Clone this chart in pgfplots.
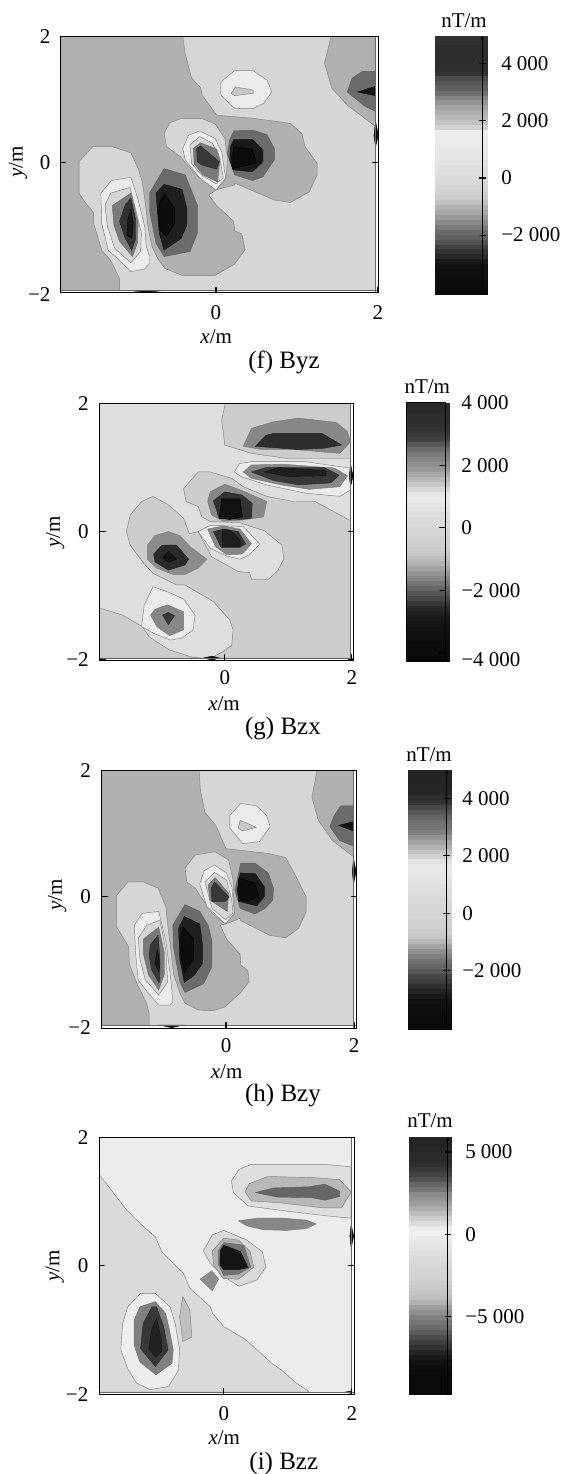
\documentclass[border=0pt]{standalone}
\usepackage{fontspec}
\setmainfont{Liberation Serif}
\usepackage{pgfplots}
\pgfplotsset{compat=1.18}
\newcommand\Pg[2]{\addplot[fill=black!#1,draw=black!\fpeval{round(max(50,#1+5),0)},line width=0.45pt] coordinates {#2} --cycle;}
\newcommand\Fs{\fontsize{21}{23}\selectfont}
\pgfplotsset{
 panel/.style={scale only axis,anchor=north west,axis on top,no markers,tick align=inside,
  major tick length=6pt,axis line style={line width=1pt},
  every tick/.style={black,line width=1.1pt},
  xtick pos=bottom,ytick pos=both,yticklabel pos=left,xticklabel pos=bottom,
  every tick label/.append style={font=\Fs,inner sep=0pt,outer sep=0pt},
  yticklabel shift=10pt,
  xlabel={\textit{x}/m},ylabel={\textit{y}/m},
  every axis x label/.style={at={(axis description cs:0.49,0)},anchor=center,yshift=-43.5pt,font=\Fs},
  every axis y label/.style={at={(axis description cs:0,0.5)},xshift=-44.5pt,rotate=90,anchor=center,font=\Fs},
 },
 cbar/.style={scale only axis,anchor=north west,axis on top,no markers,clip=false,tick align=inside,
  major tick length=6.5pt,xmin=0,xmax=1,xtick=\empty,axis line style={line width=0.8pt,-},
  every tick/.style={black,line width=1.1pt},
  ytick pos=right,yticklabel pos=right,
  every tick label/.append style={font=\Fs,inner sep=0pt,outer sep=0pt},
 },
}
% #1 bands' right end (frame width = 1), #2 value at top, #3 value at bottom, #4 darkness list top to bottom
\newcommand\Bands[4]{%
 \foreach \p [count=\i] in {#4} {%
  \pgfmathsetmacro{\a}{#2-(\i-1)*((#2-(#3))/52)}%
  \pgfmathsetmacro{\b}{#2-\i*((#2-(#3))/52)}%
  \edef\temp{\noexpand\addplot[fill=black!\p,draw=black!\p,line width=0.2pt,forget plot] coordinates {(0,\a)(#1,\a)(#1,\b)(0,\b)} --cycle;}\temp
 }%
}
\begin{document}
\begin{tikzpicture}
\path[use as bounding box] (0pt,0pt) rectangle (564pt,-1474pt);
% ---------------- (f) Byz
\begin{axis}[panel,at={(60.4pt,-36.7pt)},width=318pt,height=256pt,
 xmin=-1.92,xmax=2.005,ymin=-2.076,ymax=2,xticklabel shift=13pt,
 y label style={xshift=2.7pt,yshift=-2pt},
 xtick={0,2},xticklabels={0,2},ytick={0,2},yticklabels={0,2},
 extra y ticks={-2},extra y tick labels={−2},extra y tick style={major tick length=0pt,yticklabel style={yshift=-7pt}}]
\Pg{16}{(-1.92,-2.044)(1.97,-2.044)(1.97,2)(-1.92,2)}
\Pg{31}{(-1.92,2)(-0.41,2)(-0.38,1.73)(-0.30,1.34)(-0.19,1.19)(-0.17,1.07)(0.01,0.75)(0.46,0.70)(0.92,0.62)(1.06,0.46)(1.10,0.25)(1.25,-0.02)(1.25,-0.20)(1.15,-0.47)(0.92,-0.64)(0.72,-0.60)(0.23,-0.33)(0.23,-0.36)(0,-0.44)(-0.09,-0.52)(0.01,-0.69)(0.22,-0.94)(0.23,-1.09)(0.32,-1.14)(0.36,-1.39)(0.23,-1.62)(-0.01,-1.80)(-0.42,-1.80)(-0.63,-1.69)(-0.72,-1.53)(-0.79,-1.34)(-0.84,-1.02)(-0.86,-0.76)(-0.91,-0.31)(-0.96,-0.10)(-1.05,0.15)(-1.28,0.25)(-1.52,0.25)(-1.69,0.01)(-1.69,-0.49)(-1.62,-0.63)(-1.51,-0.80)(-1.51,-0.97)(-1.41,-1.40)(-1.30,-1.56)(-1.19,-1.85)(-1.19,-2.044)(-1.92,-2.044)}
\Pg{31}{(1.42,2)(1.34,1.58)(1.43,1.18)(1.62,0.91)(1.97,0.57)(1.97,2)}
% left blob
\Pg{8}{(-1.42,-0.49)(-1.29,-0.29)(-1.05,-0.24)(-0.96,-0.60)(-0.88,-1.02)(-0.86,-1.34)(-0.82,-1.50)(-0.82,-1.61)(-0.88,-1.70)(-1.05,-1.74)(-1.19,-1.56)(-1.33,-1.40)(-1.41,-0.97)}
\Pg{16}{(-1.37,-0.68)(-1.30,-0.49)(-1.06,-0.40)(-0.99,-0.76)(-0.92,-1.13)(-0.93,-1.42)(-1.05,-1.60)(-1.25,-1.37)(-1.34,-1.02)}
\Pg{52}{(-1.28,-0.69)(-1.05,-0.49)(-0.96,-0.97)(-0.97,-1.29)(-1.03,-1.50)(-1.19,-1.26)(-1.26,-1.00)}
\Pg{80}{(-1.12,-0.68)(-1.05,-0.57)(-0.99,-0.92)(-0.99,-1.21)(-1.04,-1.40)(-1.12,-1.21)(-1.19,-0.94)}
\Pg{90}{(-1.05,-0.75)(-1.02,-0.97)(-1.04,-1.21)(-1.10,-1.16)(-1.09,-0.92)}
% lower dark blob
\Pg{58}{(-0.64,-0.10)(-0.38,-0.20)(-0.23,-0.68)(-0.23,-1.13)(-0.32,-1.42)(-0.64,-1.50)(-0.74,-1.29)(-0.82,-0.76)(-0.82,-0.49)}
\Pg{88}{(-0.64,-0.35)(-0.42,-0.43)(-0.36,-0.73)(-0.36,-1.00)(-0.43,-1.21)(-0.64,-1.40)(-0.70,-1.13)(-0.74,-0.49)}
\Pg{95}{(-0.64,-0.49)(-0.51,-0.73)(-0.51,-0.97)(-0.61,-1.18)(-0.69,-1.08)(-0.72,-0.71)}
% central blob
\Pg{16}{(-0.64,0.46)(-0.57,0.63)(-0.42,0.70)(-0.18,0.70)(-0.01,0.61)(0.11,0.38)(0.14,0.09)(0.13,-0.25)(0,-0.44)(-0.26,-0.18)(-0.44,0.09)(-0.61,0.25)}
\Pg{8}{(-0.41,0.22)(-0.34,0.43)(-0.20,0.50)(-0.01,0.38)(0.07,0.17)(0.12,-0.25)(0,-0.44)(-0.20,-0.25)(-0.38,0.04)}
\Pg{16}{(-0.32,0.28)(-0.20,0.41)(-0.04,0.30)(0.05,0.04)(0.09,-0.25)(0,-0.34)(-0.18,-0.20)(-0.30,-0.02)}
\Pg{52}{(-0.28,0.22)(-0.19,0.31)(0.01,0.21)(0.05,0.04)(0.02,-0.31)(-0.16,-0.20)(-0.27,-0.02)}
\Pg{78}{(-0.24,0.22)(-0.19,0.26)(0.04,0.01)(0.01,-0.11)(-0.18,-0.04)(-0.23,0.01)}
% right dark blob
\Pg{58}{(0.22,0.50)(0.46,0.51)(0.63,0.44)(0.72,0.22)(0.72,0.04)(0.58,-0.23)(0.45,-0.29)(0.23,-0.20)(0.14,0.14)(0.17,0.36)}
\Pg{90}{(0.22,0.36)(0.45,0.36)(0.58,0.20)(0.58,0.01)(0.45,-0.15)(0.21,-0.12)(0.17,0.04)(0.18,0.25)}
\Pg{95}{(0.22,0.25)(0.45,0.21)(0.50,-0.01)(0.30,-0.07)(0.21,-0.10)(0.21,0.14)}
% top blob
\Pg{8}{(0.23,1.46)(0.46,1.46)(0.63,1.31)(0.69,1.12)(0.59,0.94)(0.46,0.86)(0.23,0.86)(0.06,1.07)(0.06,1.28)}
\Pg{22}{(0.24,1.20)(0.46,1.15)(0.46,1.10)(0.23,1.06)(0.19,1.10)}
% top right
\Pg{58}{(1.81,1.45)(1.97,1.45)(1.97,0.81)(1.84,0.89)(1.62,1.12)(1.68,1.34)}
\Pg{92}{(1.75,1.12)(1.97,1.21)(1.97,1.06)}
\Pg{95}{(1.97,0.65)(2.005,0.43)(1.97,0.25)(1.95,0.43)}
\Pg{95}{(-1.04,-2.044)(-0.86,-2.07)(-0.66,-2.044)}
\addplot[black!60,line width=0.8pt] coordinates {(1.97,-2.076)(1.97,2)};
\addplot[black!60,line width=0.8pt] coordinates {(-1.92,-2.044)(2.005,-2.044)};
\end{axis}
\begin{axis}[cbar,at={(435pt,-36pt)},width=47.3pt,height=258.3pt,ymin=-4074,ymax=4974,axis y line=right,axis x line=none,
 ytick={-2000,0,2000,4000},yticklabels={−2 000,0,2 000,4 000},yticklabel shift=15.7pt]
\Bands{1.093}{4974}{-4074}{80,81,82,82,82,82,82,80,70,66,62,56,48,42,36,32,28,24,18,8,8,8,9,10,10,11,12,13,14,15,16,18,20,24,30,34,40,46,52,58,62,68,74,80,84,90,93,94,94,95,95,96}
\end{axis}
\node[font=\Fs] at (464pt,-20.7pt) {nT/m};
\node[font=\fontsize{25}{27}\selectfont] at (284pt,-362pt) {(f) Byz};
% ---------------- (g) Bzx
\begin{axis}[panel,at={(99.6pt,-403.3pt)},width=254pt,height=256.7pt,
 xmin=-1.972,xmax=2.028,ymin=-2,ymax=2,xticklabel shift=11pt,yticklabel shift=11pt,
 xtick={0,2},xticklabels={0,2},ytick={-2,0,2},yticklabels={−2,0,2}]
\Pg{13}{(-1.972,-1.97)(1.98,-1.97)(1.98,2)(-1.972,2)}
\Pg{20}{(1.98,0.17)(1.42,0.47)(1.08,0.47)(0.66,0.55)(0.29,0.70)(0.11,0.83)(-0.23,0.93)(-0.42,0.93)(-0.65,0.67)(-0.61,0.47)(-0.42,0.39)(-0.36,0.23)(-0.23,0.16)(0.24,0.14)(0.63,0.01)(0.90,-0.21)(0.93,-0.42)(0.84,-0.60)(0.69,-0.74)(0.42,-0.74)(0.39,-0.64)(0.21,-0.62)(-0.21,-0.39)(-0.42,0)(-0.56,-0.03)(-0.65,0.21)(-0.89,0.42)(-1.13,0.55)(-1.31,0.47)(-1.49,0.26)(-1.55,0)(-1.49,-0.21)(-1.28,-0.49)(-1.13,-0.65)(-0.76,-0.83)(-0.63,-0.83)(-0.18,-1.09)(0.08,-1.38)(0.13,-1.53)(0.11,-1.77)(-0.03,-1.87)(-0.20,-1.96)(-0.20,-1.97)(1.98,-1.97)}
\Pg{20}{(-1.972,-1.19)(-1.61,-1.30)(-1.30,-1.48)(-1.19,-1.64)(-0.88,-1.84)(-0.54,-1.95)(-0.37,-1.97)(-1.972,-1.97)}
\Pg{20}{(0.01,2)(-0.05,1.74)(0,1.35)(0.42,1.22)(0.99,1.14)(1.98,1.14)(1.98,2)}
\Pg{47}{(0.42,1.61)(0.76,1.71)(1.16,1.77)(1.76,1.70)(1.93,1.56)(1.98,1.40)(1.81,1.22)(1.10,1.28)(0.57,1.28)(0.29,1.33)}
\Pg{82}{(0.65,1.50)(0.76,1.53)(1.53,1.53)(1.84,1.35)(1.56,1.30)(1.16,1.28)(0.48,1.33)}
\Pg{8}{(0.23,1.06)(0.42,1.09)(1.27,1.09)(1.98,0.99)(1.98,0.65)(1.81,0.55)(1.27,0.60)(0.65,0.73)(0.25,0.86)(0.15,0.93)}
\Pg{47}{(0.42,1.04)(0.93,1.05)(1.73,0.99)(1.93,0.87)(1.81,0.70)(1.33,0.66)(0.88,0.73)(0.42,0.83)(0.29,0.93)}
\Pg{78}{(0.42,0.93)(0.65,1.0)(1.56,1.0)(1.80,0.88)(1.67,0.76)(1.16,0.73)(0.76,0.80)}
\Pg{88}{(0.62,0.93)(0.85,1.0)(1.59,0.95)(1.59,0.87)(0.99,0.86)}
\Pg{95}{(1.98,1.05)(2.02,0.87)(1.98,0.70)(1.96,0.87)}
\Pg{47}{(-0.27,0.47)(-0.23,0.62)(0,0.74)(0.32,0.62)(0.66,0.47)(0.61,0.23)(0.27,0.18)(-0.02,0.16)(-0.21,0.26)}
\Pg{80}{(-0.18,0.48)(0,0.62)(0.27,0.57)(0.43,0.44)(0.42,0.21)(0.24,0.19)(-0.09,0.21)}
\Pg{93}{(-0.05,0.51)(0.24,0.51)(0.28,0.23)(0.08,0.19)(-0.09,0.21)}
\Pg{8}{(-0.42,0)(-0.23,0.10)(0.29,0.08)(0.55,-0.19)(0.39,-0.36)(0.24,-0.43)(0.03,-0.38)(-0.23,-0.26)}
\Pg{47}{(-0.27,0.04)(-0.02,0.09)(0.24,0.04)(0.42,-0.19)(0.27,-0.35)(0.03,-0.36)(-0.15,-0.23)}
\Pg{80}{(-0.18,0)(-0.02,0.04)(0.21,0)(0.33,-0.19)(0.24,-0.24)(-0.06,-0.24)}
\Pg{88}{(-0.04,0.04)(0.08,0.02)(0.24,-0.13)(0.24,-0.24)(-0.04,-0.24)}
\Pg{45}{(-1.22,-0.21)(-1.10,-0.06)(-0.89,0)(-0.71,-0.06)(-0.55,-0.23)(-0.28,-0.43)(-0.42,-0.57)(-0.63,-0.67)(-0.81,-0.67)(-1.07,-0.57)(-1.22,-0.43)}
\Pg{83}{(-1.12,-0.35)(-0.99,-0.21)(-0.76,-0.21)(-0.57,-0.43)(-0.63,-0.52)(-0.89,-0.60)(-1.10,-0.47)}
\Pg{92}{(-0.98,-0.40)(-0.89,-0.31)(-0.76,-0.43)(-0.89,-0.48)}
\Pg{8}{(-1.13,-0.86)(-0.92,-0.93)(-0.65,-1.05)(-0.47,-1.30)(-0.50,-1.53)(-0.68,-1.66)(-0.86,-1.69)(-1.13,-1.58)(-1.31,-1.48)(-1.27,-1.14)}
\Pg{47}{(-1.17,-1.30)(-1.10,-1.21)(-0.90,-1.14)(-0.65,-1.25)(-0.65,-1.53)(-0.87,-1.62)(-1.07,-1.48)}
\Pg{78}{(-0.98,-1.30)(-0.89,-1.26)(-0.79,-1.31)(-0.89,-1.45)}
\Pg{95}{(-0.34,-1.97)(-0.2,-1.94)(-0.08,-1.97)(-0.2,-2)}
\addplot[black!60,line width=0.8pt] coordinates {(1.98,-2)(1.98,2)};
\addplot[black!60,line width=0.8pt] coordinates {(-1.972,-1.97)(2.028,-1.97)};
\end{axis}
\begin{axis}[cbar,at={(406.5pt,-402.7pt)},width=39.2pt,height=258pt,ymin=-4246,ymax=4000,
 ytick={-2000,0,2000,4000},yticklabels={−2 000,0,2 000,4 000},yticklabel shift=15.6pt,
 extra y ticks={-4000},extra y tick labels={−4 000},extra y tick style={yticklabel style={yshift=-7pt}}]
\Bands{1.084}{4000}{-4246}{84,84,82,82,82,80,78,74,66,58,52,48,44,40,34,28,22,16,10,8,10,12,13,14,15,16,17,18,19,20,22,26,30,36,42,48,54,60,66,72,78,84,88,90,92,93,94,94,95,95,95,96}
\end{axis}
\node[font=\Fs] at (427.3pt,-386.7pt) {nT/m};
\node[font=\fontsize{25}{27}\selectfont] at (283pt,-728.3pt) {(g) Bzx};
% ---------------- (h) Bzy
\begin{axis}[panel,at={(101.8pt,-770.7pt)},width=254.7pt,height=257.6pt,
 xmin=-1.938,xmax=2.036,ymin=-2.10,ymax=2,xticklabel shift=10.5pt,yticklabel shift=11pt,
 y label style={xshift=4.5pt},
 xtick={0,2},xticklabels={0,2},ytick={0,2},yticklabels={0,2},
 extra y ticks={-2},extra y tick labels={−2},extra y tick style={major tick length=0pt,yticklabel style={yshift=-5.4pt}}]
\Pg{16}{(-1.938,-2.05)(1.99,-2.05)(1.99,2)(-1.938,2)}
\Pg{31}{(-1.938,2)(-0.42,2)(-0.40,1.69)(-0.33,1.34)(-0.16,1.13)(0,0.76)(0.68,0.68)(0.93,0.62)(1.07,0.36)(1.25,-0.01)(1.25,-0.25)(1.13,-0.51)(0.93,-0.66)(0.68,-0.62)(0.22,-0.38)(0.22,-0.35)(-0.01,-0.44)(-0.09,-0.46)(0.01,-0.68)(0.22,-0.92)(0.23,-1.09)(0.34,-1.18)(0.36,-1.36)(0.22,-1.54)(-0.02,-1.76)(-0.20,-1.82)(-0.43,-1.81)(-0.64,-1.70)(-0.72,-1.54)(-0.82,-1.23)(-0.86,-0.85)(-0.90,-0.54)(-0.94,-0.16)(-1.06,0.13)(-1.29,0.23)(-1.53,0.23)(-1.71,0.01)(-1.71,-0.48)(-1.52,-0.80)(-1.51,-1.07)(-1.39,-1.39)(-1.24,-1.70)(-1.20,-1.86)(-1.20,-2.05)(-1.938,-2.05)}
\Pg{31}{(1.42,2)(1.34,1.58)(1.44,1.21)(1.66,0.89)(1.99,0.63)(1.99,2)}
\Pg{58}{(1.79,1.44)(1.99,1.44)(1.99,0.80)(1.77,0.89)(1.62,1.11)(1.69,1.29)}
\Pg{92}{(1.76,1.13)(1.99,1.19)(1.99,1.04)}
\Pg{95}{(1.99,0.60)(2.03,0.39)(1.99,0.20)(1.97,0.39)}
\Pg{95}{(-1.03,-2.05)(-0.85,-2.09)(-0.67,-2.05)}
\Pg{8}{(0.23,1.48)(0.48,1.44)(0.63,1.29)(0.69,1.11)(0.52,0.87)(0.26,0.84)(0.06,1.09)(0.06,1.29)}
\Pg{22}{(0.22,1.21)(0.47,1.10)(0.26,1.04)(0.19,1.09)}
\Pg{16}{(-0.64,0.45)(-0.48,0.66)(-0.17,0.71)(0.04,0.58)(0.11,0.26)(0.13,-0.27)(-0.01,-0.44)(-0.22,-0.27)(-0.48,0.13)(-0.61,0.23)}
\Pg{8}{(-0.41,0.20)(-0.34,0.41)(-0.18,0.50)(0.01,0.37)(0.09,0.15)(0.13,-0.27)(-0.01,-0.44)(-0.30,-0.16)}
\Pg{16}{(-0.33,0.23)(-0.18,0.38)(0.01,0.26)(0.09,-0.06)(0.11,-0.27)(-0.01,-0.37)(-0.22,-0.19)}
\Pg{52}{(-0.28,0.18)(-0.17,0.30)(0.04,0.05)(0.02,-0.24)(-0.25,-0.06)}
\Pg{78}{(-0.23,0.13)(-0.18,0.23)(0.05,-0.01)(-0.01,-0.08)(-0.22,-0.08)}
\Pg{58}{(0.23,0.53)(0.45,0.53)(0.66,0.37)(0.74,0.13)(0.73,-0.06)(0.61,-0.19)(0.45,-0.28)(0.22,-0.19)(0.14,0.10)(0.18,0.29)}
\Pg{90}{(0.22,0.37)(0.46,0.36)(0.60,0.15)(0.60,0)(0.48,-0.15)(0.20,-0.08)(0.18,0.10)}
\Pg{95}{(0.20,0.29)(0.45,0.21)(0.51,0)(0.35,-0.07)(0.20,-0.08)(0.18,0.10)}
\Pg{58}{(-0.64,-0.13)(-0.41,-0.24)(-0.28,-0.46)(-0.22,-0.70)(-0.22,-1.12)(-0.35,-1.39)(-0.64,-1.53)(-0.72,-1.36)(-0.82,-0.80)(-0.83,-0.46)}
\Pg{88}{(-0.65,-0.32)(-0.41,-0.44)(-0.37,-0.75)(-0.37,-1.07)(-0.49,-1.25)(-0.65,-1.37)(-0.72,-1.01)(-0.74,-0.51)}
\Pg{95}{(-0.67,-0.49)(-0.51,-0.67)(-0.51,-0.99)(-0.65,-1.22)(-0.70,-0.96)(-0.73,-0.70)}
\Pg{8}{(-1.43,-0.46)(-1.31,-0.27)(-1.05,-0.24)(-0.94,-0.70)(-0.86,-1.33)(-0.83,-1.68)(-0.87,-1.73)(-1.05,-1.73)(-1.23,-1.52)(-1.37,-1.33)(-1.41,-0.91)}
\Pg{16}{(-1.37,-0.67)(-1.24,-0.46)(-1.03,-0.38)(-0.94,-0.85)(-0.91,-1.36)(-1.05,-1.57)(-1.26,-1.33)(-1.34,-1.01)}
\Pg{52}{(-1.29,-0.68)(-1.05,-0.49)(-0.96,-0.91)(-0.96,-1.23)(-1.05,-1.49)(-1.21,-1.25)(-1.29,-0.91)}
\Pg{78}{(-1.18,-0.77)(-1.06,-0.62)(-1.03,-0.99)(-1.03,-1.36)(-1.05,-1.37)(-1.16,-1.17)(-1.20,-0.93)}
\Pg{90}{(-1.07,-0.85)(-1.03,-1.07)(-1.05,-1.20)(-1.11,-1.07)}
\addplot[black!60,line width=0.8pt] coordinates {(1.99,-2.10)(1.99,2)};
\addplot[black!60,line width=0.8pt] coordinates {(-1.938,-2.05)(2.036,-2.05)};
\end{axis}
\begin{axis}[cbar,at={(408.3pt,-770pt)},width=38.1pt,height=258.7pt,ymin=-4014,ymax=4984,axis y line=right,axis x line=none,
 ytick={-2000,0,2000,4000},yticklabels={−2 000,0,2 000,4 000},yticklabel shift=12.7pt]
\Bands{1.113}{4984}{-4014}{86,86,86,86,85,82,80,72,66,60,56,54,50,42,36,30,24,18,12,9,9,10,11,12,13,14,15,16,16,17,18,19,20,22,28,36,44,50,56,60,66,72,76,82,86,90,93,94,94,95,95,96}
\end{axis}
\node[font=\Fs] at (429pt,-755pt) {nT/m};
\node[font=\fontsize{25}{27}\selectfont] at (283pt,-1096pt) {(h) Bzy};
% ---------------- (i) Bzz
\begin{axis}[panel,at={(99.3pt,-1137.3pt)},width=255pt,height=257pt,
 xmin=-1.945,xmax=2.039,ymin=-2.003,ymax=2,xticklabel shift=12pt,yticklabel shift=11pt,
 xtick={0,2},xticklabels={0,2},ytick={-2,0,2},yticklabels={−2,0,2}]
\Pg{7.5}{(-1.945,-1.97)(1.99,-1.97)(1.99,2)(-1.945,2)}
\Pg{14.5}{(-1.945,1.42)(-1.52,0.87)(-1.31,0.66)(-1.07,0.45)(-0.97,0.22)(-0.81,0.06)(-0.63,-0.12)(-0.53,-0.35)(-0.21,-0.64)(-0.17,-0.75)(0,-0.95)(0.31,-1.13)(0.52,-1.31)(0.75,-1.52)(0.91,-1.63)(1.11,-1.81)(1.30,-1.94)(1.33,-1.97)(-1.945,-1.97)}
\Pg{7}{(-1.50,-0.64)(-1.30,-0.43)(-1.07,-0.43)(-0.84,-0.64)(-0.76,-0.90)(-0.69,-1.31)(-0.71,-1.63)(-0.86,-1.88)(-1.15,-1.93)(-1.36,-1.83)(-1.49,-1.63)(-1.61,-1.31)(-1.58,-0.90)}
\Pg{50}{(-1.31,-0.64)(-1.07,-0.56)(-0.91,-0.74)(-0.86,-0.95)(-0.79,-1.31)(-0.81,-1.52)(-1.06,-1.70)(-1.31,-1.50)(-1.40,-1.24)(-1.40,-0.85)}
\Pg{78}{(-1.12,-0.64)(-1.05,-0.64)(-0.94,-0.95)(-0.87,-1.31)(-1.07,-1.57)(-1.30,-1.29)(-1.26,-0.90)}
\Pg{87}{(-1.05,-0.82)(-0.97,-1.18)(-0.97,-1.34)(-1.07,-1.42)(-1.17,-1.29)(-1.13,-1.0)}
\Pg{25}{(-0.64,-0.48)(-0.53,-0.69)(-0.50,-1.11)(-0.64,-1.18)(-0.69,-0.79)}
\Pg{45}{(-0.37,-0.21)(-0.19,-0.08)(-0.08,-0.21)(-0.18,-0.39)}
\Pg{15}{(-0.32,0.23)(-0.18,0.48)(0,0.55)(0.36,0.40)(0.60,0.22)(0.66,-0.02)(0.52,-0.22)(0.24,-0.32)(0.05,-0.20)(-0.19,0.01)}
\Pg{30}{(-0.18,0.23)(0,0.43)(0.23,0.40)(0.41,0.22)(0.47,-0.02)(0.23,-0.21)(-0.01,-0.20)(-0.16,0.01)}
\Pg{55}{(-0.08,0.24)(0,0.36)(0.31,0.32)(0.42,-0.02)(0.23,-0.13)(0,-0.15)(-0.08,0.01)}
\Pg{92}{(-0.05,0.24)(0,0.32)(0.26,0.22)(0.38,-0.03)(0.23,-0.06)(0,-0.06)(-0.06,0.01)}
\Pg{13}{(0.43,1.58)(1.56,1.58)(1.99,1.54)(1.99,0.74)(1.67,0.77)(0.99,0.85)(0.38,0.93)(0.15,1.14)(0.12,1.32)(0.24,1.50)}
\Pg{28}{(0.69,1.39)(1.44,1.37)(1.81,1.34)(1.99,1.15)(1.84,0.90)(1.56,0.90)(0.88,0.98)(0.43,1.01)(0.33,1.15)(0.40,1.28)}
\Pg{60}{(0.50,1.14)(0.77,1.21)(1.33,1.23)(1.58,1.27)(1.81,1.16)(1.81,1.08)(1.58,1.02)(1.38,1.06)(0.83,1.07)}
\Pg{47}{(0.23,0.70)(0.52,0.74)(0.93,0.74)(1.30,0.71)(1.44,0.65)(1.30,0.58)(0.98,0.55)(0.62,0.56)(0.36,0.62)}
\Pg{95}{(1.99,0.64)(2.03,0.46)(1.99,0.28)(1.97,0.46)}
\Pg{95}{(1.89,-1.97)(2.0,-1.95)(2.0,-1.99)}
\addplot[black!60,line width=0.8pt] coordinates {(1.99,-2.003)(1.99,2)};
\addplot[black!60,line width=0.8pt] coordinates {(-1.945,-1.97)(2.039,-1.97)};
\end{axis}
\begin{axis}[cbar,at={(409.4pt,-1137.3pt)},width=38.4pt,height=257pt,ymin=-9721,ymax=5893,axis y line=right,axis x line=none,
 ytick={-5000,0,5000},yticklabels={−5 000,0,5 000},yticklabel shift=14.2pt]
\Bands{1.075}{5893}{-9721}{86,86,85,84,83,82,78,74,68,60,54,46,42,38,32,26,20,14,8,6,8,10,11,13,14,15,16,17,18,20,21,23,25,30,38,44,50,54,58,64,70,76,80,86,90,93,95,95,96,96,96,96}
\end{axis}
\node[font=\Fs] at (430pt,-1121pt) {nT/m};
\node[font=\fontsize{25}{27}\selectfont] at (283.8pt,-1463pt) {(i) Bzz};
\end{tikzpicture}
\end{document}
